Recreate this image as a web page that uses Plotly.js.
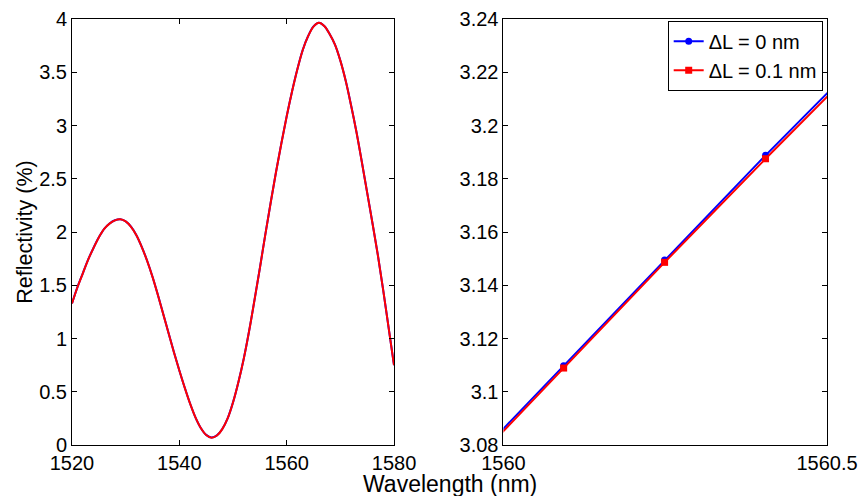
<!DOCTYPE html>
<html>
<head>
<meta charset="utf-8">
<script src="https://cdn.plot.ly/plotly-3.0.1.min.js"></script>
<style>html,body{margin:0;padding:0;background:#fff;}#chart{width:860px;height:496px;}</style>
</head>
<body>
<div id="chart"></div>
<script>
// Full-range spectrum (left panel), 1 nm sampling
var wavelength = [1520, 1521, 1522, 1523, 1524, 1525, 1526, 1527, 1528, 1529,
  1530, 1531, 1532, 1533, 1534, 1535, 1536, 1537, 1538, 1539,
  1540, 1541, 1542, 1543, 1544, 1545, 1546, 1547, 1548, 1549,
  1550, 1551, 1552, 1553, 1554, 1555, 1556, 1557, 1558, 1559,
  1560, 1561, 1562, 1563, 1564, 1565, 1566, 1567, 1568, 1569,
  1570, 1571, 1572, 1573, 1574, 1575, 1576, 1577, 1578, 1579, 1580];
var reflDL0 = [1.33, 1.48, 1.61, 1.74, 1.85, 1.95, 2.03, 2.08, 2.11, 2.12,
  2.10, 2.05, 1.97, 1.86, 1.73, 1.58, 1.41, 1.23, 1.05, 0.87,
  0.70, 0.54, 0.39, 0.26, 0.16, 0.095, 0.07, 0.09, 0.15, 0.25,
  0.40, 0.59, 0.81, 1.07, 1.36, 1.66, 1.97, 2.27, 2.56, 2.83,
  3.086, 3.32, 3.53, 3.71, 3.84, 3.93, 3.965, 3.935, 3.86, 3.76,
  3.61, 3.42, 3.19, 2.94, 2.66, 2.37, 2.08, 1.78, 1.45, 1.10, 0.75];
var reflDL01 = [1.329, 1.479, 1.609, 1.739, 1.849, 1.949, 2.029, 2.079, 2.109, 2.119,
  2.099, 2.049, 1.969, 1.859, 1.729, 1.579, 1.409, 1.229, 1.049, 0.869,
  0.699, 0.539, 0.389, 0.259, 0.159, 0.094, 0.069, 0.089, 0.149, 0.249,
  0.399, 0.589, 0.809, 1.069, 1.359, 1.659, 1.969, 2.269, 2.559, 2.829,
  3.085, 3.319, 3.529, 3.709, 3.839, 3.929, 3.964, 3.934, 3.859, 3.759,
  3.609, 3.419, 3.189, 2.939, 2.659, 2.369, 2.079, 1.779, 1.449, 1.099, 0.749];

// Zoomed samples (right panel)
var zoomWavelength = [1559.937, 1560.093, 1560.249, 1560.405, 1560.561];
var zoomDL0 = [3.0702, 3.1098, 3.1495, 3.1888, 3.2270];
var zoomDL01 = [3.0692, 3.1089, 3.1486, 3.1875, 3.2257];

var seriesNames = ['\u0394L = 0 nm', '\u0394L = 0.1 nm'];

var leftXTicks = [1520, 1540, 1560, 1580];
var leftXLabels = ['1520', '1540', '1560', '1580'];
var leftYTicks = [0, 0.5, 1, 1.5, 2, 2.5, 3, 3.5, 4];
var leftYLabels = ['0', '0.5', '1', '1.5', '2', '2.5', '3', '3.5', '4'];
var rightXTicks = [1560, 1560.5];
var rightXLabels = ['1560', '1560.5'];
var rightYTicks = [3.08, 3.1, 3.12, 3.14, 3.16, 3.18, 3.2, 3.22, 3.24];
var rightYLabels = ['3.08', '3.1', '3.12', '3.14', '3.16', '3.18', '3.2', '3.22', '3.24'];

var BLUE = '#0000ff', RED = '#ff0000';

var traces = [
  {x: wavelength, y: reflDL0, xaxis: 'x', yaxis: 'y', mode: 'lines', showlegend: false,
   line: {color: BLUE, width: 2, shape: 'spline', smoothing: 1}},
  {x: wavelength, y: reflDL01, xaxis: 'x', yaxis: 'y', mode: 'lines', showlegend: false,
   line: {color: RED, width: 2, shape: 'spline', smoothing: 1}},
  {x: zoomWavelength, y: zoomDL0, xaxis: 'x2', yaxis: 'y2', mode: 'lines+markers', name: seriesNames[0],
   line: {color: BLUE, width: 2}, marker: {symbol: 'circle', size: 7, color: BLUE}},
  {x: zoomWavelength, y: zoomDL01, xaxis: 'x2', yaxis: 'y2', mode: 'lines+markers', name: seriesNames[1],
   line: {color: RED, width: 2}, marker: {symbol: 'square', size: 7, color: RED}}
];

function ax(extra) {
  var base = {ticks: 'inside', ticklen: 5, tickwidth: 1, tickcolor: '#000',
    showline: true, linecolor: '#000', linewidth: 1, mirror: 'ticks',
    showgrid: false, zeroline: false, tickmode: 'array', fixedrange: true,
    tickfont: {size: 20, color: '#000'}};
  for (var k in extra) base[k] = extra[k];
  return base;
}

var layout = {
  width: 860, height: 496,
  margin: {l: 72, r: 33, t: 19, b: 51, pad: 0},
  paper_bgcolor: '#fff', plot_bgcolor: '#fff',
  font: {family: '"Liberation Sans", Arial, sans-serif', size: 20, color: '#000'},
  xaxis: ax({domain: [0, 0.4265], range: [1520, 1580], tickvals: leftXTicks, ticktext: leftXLabels, anchor: 'y'}),
  yaxis: ax({domain: [0, 1], range: [0, 4], tickvals: leftYTicks, ticktext: leftYLabels, anchor: 'x',
    title: {text: 'Reflectivity (%)', font: {size: 21.5}, standoff: 0}}),
  xaxis2: ax({domain: [0.5715, 1], range: [1560, 1560.5], tickvals: rightXTicks, ticktext: rightXLabels, anchor: 'y2'}),
  yaxis2: ax({domain: [0, 1], range: [3.08, 3.24], tickvals: rightYTicks, ticktext: rightYLabels, anchor: 'x2'}),
  showlegend: true,
  legend: {x: 0.9943, xanchor: 'right', y: 0.996, yanchor: 'top', bgcolor: '#fff',
    bordercolor: '#000', borderwidth: 1, font: {size: 20}, tracegroupgap: 0},
  annotations: [{text: 'Wavelength (nm)', xref: 'paper', yref: 'paper', x: 0.5, y: -0.091,
    xanchor: 'center', yanchor: 'middle', showarrow: false, font: {size: 23}}]
};

Plotly.newPlot('chart', traces, layout, {displayModeBar: false, staticPlot: true});
</script>
</body>
</html>
